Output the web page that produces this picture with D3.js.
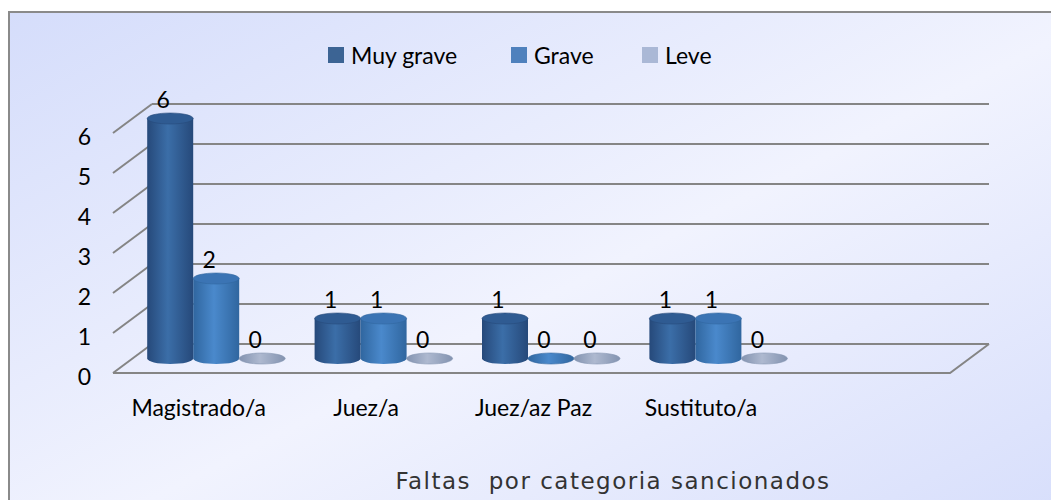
<!DOCTYPE html>
<html>
<head>
<meta charset="utf-8">
<script src="https://cdn.jsdelivr.net/npm/d3@7"></script>
<style>
  body { margin: 0; background: #fff; }
  text { font-family: Lato, "Noto Sans", sans-serif; }
</style>
</head>
<body>
<div id="chart"></div>
<script>
let categories = ["Magistrado/a", "Juez/a", "Juez/az Paz", "Sustituto/a", ""]
let seriesNames = ["Muy grave", "Grave", "Leve"]
let muyGrave = [6, 1, 1, 1]
let grave = [2, 1, 0, 1]
let leve = [0, 0, 0, 0]
let yTicks = [0, 1, 2, 3, 4, 5, 6]
let title = "Faltas  por categoria sancionados"

let width = 1051
let height = 500

let series = [muyGrave, grave, leve]
let colors = [
  { dark: "#26497a", mid: "#3b6ea8", top: "#2f5b92", legend: "#3c6494" },
  { dark: "#30669f", mid: "#4a89cc", top: "#3b74b4", legend: "#4f81bd" },
  { dark: "#8393b0", mid: "#aeb9d0", top: "#9aa8c3", legend: "#aab8d6" }
]

let svg = d3.select("#chart")
  .append("svg")
  .attr("width", width)
  .attr("height", height)

let defs = svg.append("defs")

let bg = defs.append("linearGradient")
  .attr("id", "bg")
  .attr("x1", 0).attr("y1", 0).attr("x2", 1).attr("y2", 1)
bg.append("stop").attr("offset", 0).attr("stop-color", "#d5ddfb")
bg.append("stop").attr("offset", 0.5).attr("stop-color", "#f1f3fe")
bg.append("stop").attr("offset", 1).attr("stop-color", "#d3dbfb")

colors.forEach((c, i) => {
  let g = defs.append("linearGradient")
    .attr("id", "cyl" + i)
    .attr("x1", 0).attr("y1", 0).attr("x2", 1).attr("y2", 0)
  g.append("stop").attr("offset", 0).attr("stop-color", c.dark)
  g.append("stop").attr("offset", 0.45).attr("stop-color", c.mid)
  g.append("stop").attr("offset", 1).attr("stop-color", c.dark)
})

// chart area with frame
svg.append("rect")
  .attr("x", 9).attr("y", 12)
  .attr("width", 1100).attr("height", 560)
  .attr("fill", "url(#bg)")
  .attr("stroke", "#8a8a8a")
  .attr("stroke-width", 2)

// 3d geometry
let x0 = 113, x1 = 950
let depthX = 39, depthY = -29

let x = d3.scaleBand()
  .domain(categories)
  .range([x0, x1])

let y = d3.scaleLinear()
  .domain([0, 6])
  .range([373, 133])

let barW = 46
let xs = d3.scaleBand()
  .domain(seriesNames)
  .range([-barW * 1.5, barW * 1.5])

let grid = svg.append("g")
  .attr("stroke", "#858585")
  .attr("stroke-width", 2)
  .attr("fill", "none")

// back wall lines + left diagonals
yTicks.forEach(t => {
  grid.append("line")
    .attr("x1", x0 + depthX).attr("x2", x1 + depthX)
    .attr("y1", y(t) + depthY).attr("y2", y(t) + depthY)
  grid.append("line")
    .attr("x1", x0).attr("x2", x0 + depthX)
    .attr("y1", y(t)).attr("y2", y(t) + depthY)
})
// floor
grid.append("path")
  .attr("d", `M${x0},${y(0)} L${x1},${y(0)} L${x1 + depthX},${y(0) + depthY}`)

// y labels
svg.append("g")
  .selectAll("text")
  .data(yTicks)
  .enter()
  .append("text")
  .attr("x", 91)
  .attr("y", d => y(d) + 3)
  .attr("text-anchor", "end")
  .attr("dominant-baseline", "central")
  .attr("font-size", 23)
  .attr("fill", "#000")
  .text(d => d)

// cylinders
let rx = barW / 2, ry = 5.5
let bars = svg.append("g")
categories.slice(0, 4).forEach((cat, ci) => {
  series.forEach((vals, si) => {
    let v = vals[ci]
    let cx = x(cat) + x.bandwidth() / 2 + xs(seriesNames[si]) + barW / 2 + depthX / 2
    let base = y(0) + depthY / 2
    let top = y(v) + depthY / 2
    let c = colors[si]
    let g = bars.append("g")
    if (v > 0) {
      g.append("path")
        .attr("d", `M${cx - rx},${top} L${cx - rx},${base} A${rx},${ry} 0 0 0 ${cx + rx},${base} L${cx + rx},${top} Z`)
        .attr("fill", `url(#cyl${si})`)
      g.append("ellipse")
        .attr("cx", cx).attr("cy", top)
        .attr("rx", rx).attr("ry", ry)
        .attr("fill", c.top)
        .attr("stroke", c.dark).attr("stroke-width", 0.6)
    } else {
      g.append("ellipse")
        .attr("cx", cx).attr("cy", base)
        .attr("rx", rx).attr("ry", ry)
        .attr("fill", `url(#cyl${si})`)
        .attr("stroke", c.dark).attr("stroke-width", 0.6)
    }
    g.append("text")
      .attr("x", cx - 7)
      .attr("y", top - 20)
      .attr("text-anchor", "middle")
      .attr("dominant-baseline", "central")
      .attr("font-size", 23)
      .text(v)
  })
})

// category labels
svg.append("g")
  .selectAll("text")
  .data(categories)
  .enter()
  .append("text")
  .attr("x", d => x(d) + x.bandwidth() / 2 + 2)
  .attr("y", 416)
  .attr("text-anchor", "middle")
  .attr("font-size", 23)
  .text(d => d)

// legend
let legendX = [328, 511, 642]
let legend = svg.append("g")
seriesNames.forEach((n, i) => {
  legend.append("rect")
    .attr("x", legendX[i]).attr("y", 47)
    .attr("width", 16).attr("height", 16)
    .attr("fill", colors[i].legend)
  legend.append("text")
    .attr("x", legendX[i] + 23)
    .attr("y", 55)
    .attr("dominant-baseline", "central")
    .attr("font-size", 23)
    .text(n)
})

// title
svg.append("text")
  .attr("x", 613)
  .attr("y", 489)
  .attr("text-anchor", "middle")
  .attr("font-size", 23)
  .attr("letter-spacing", 1.5)
  .attr("fill", "#333")
  .style("font-family", "'DejaVu Sans', Verdana, sans-serif")
  .style("white-space", "pre")
  .text(title)
</script>
</body>
</html>
